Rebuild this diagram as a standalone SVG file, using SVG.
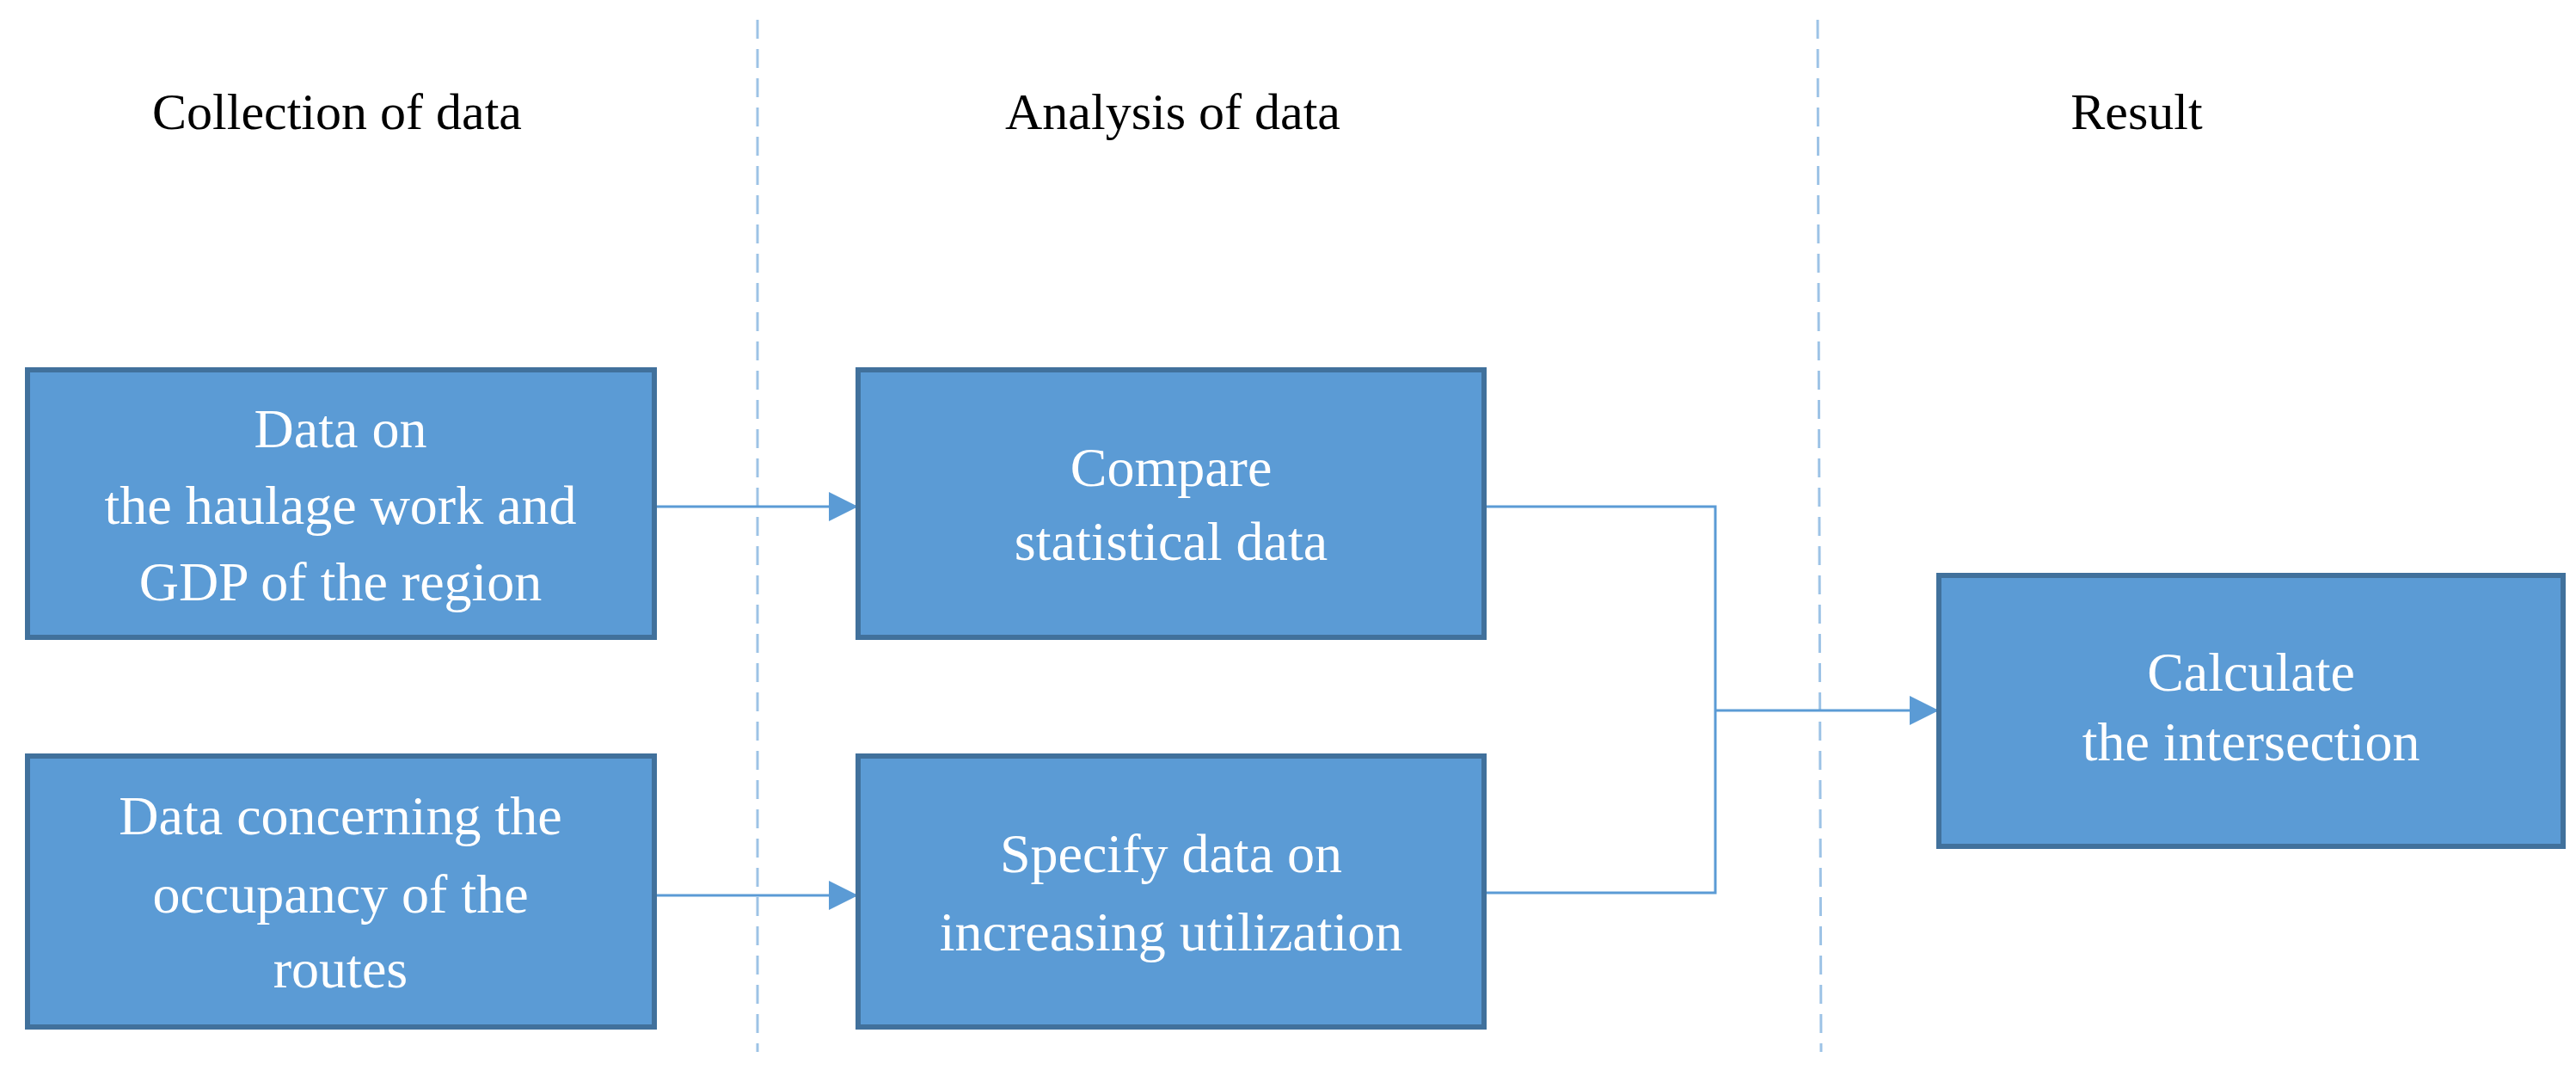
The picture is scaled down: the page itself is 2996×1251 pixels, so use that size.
<svg xmlns="http://www.w3.org/2000/svg" width="2996" height="1251" viewBox="0 0 2996 1251">
<style>
.box{fill:#5B9BD5;stroke:#41719C;stroke-width:6}
.bt{font-family:"Liberation Serif",serif;font-size:64px;fill:#fff;text-anchor:middle}
.hd{font-family:"Liberation Serif",serif;font-size:60px;fill:#000;text-anchor:middle}
.cn{fill:none;stroke:#5B9BD5;stroke-width:3}
.ds{stroke:#9DC3E6;stroke-width:3;stroke-dasharray:22 12}
</style>
<defs><marker id="ah" markerWidth="12" markerHeight="12" refX="11" refY="6" orient="auto" markerUnits="userSpaceOnUse" viewBox="0 0 12 12"><path d="M0,0 L12,6 L0,12 z" fill="#5B9BD5"/></marker>
<marker id="a" viewBox="0 0 10 10" refX="10" refY="5" markerWidth="34" markerHeight="34" markerUnits="userSpaceOnUse" orient="auto"><path d="M0,0 L10,5 L0,10 z" fill="#5B9BD5"/></marker></defs>
<rect width="2996" height="1251" fill="#fff"/>
<g id="dividers"><line class="ds" x1="881" y1="23" x2="881" y2="1223"/><line class="ds" x1="2114" y1="23" x2="2118" y2="1223"/></g>
<g id="headers"><text class="hd" x="392" y="150">Collection of data</text><text class="hd" x="1364" y="150">Analysis of data</text><text class="hd" x="2485" y="150">Result</text></g>
<g id="connectors">
<line class="cn" x1="761" y1="589" x2="998" y2="589" marker-end="url(#a)"/>
<line class="cn" x1="761" y1="1041" x2="998" y2="1041" marker-end="url(#a)"/>
<polyline class="cn" points="1726,589 1995,589 1995,1038 1726,1038"/>
<line class="cn" x1="1995" y1="826" x2="2255" y2="826" marker-end="url(#a)"/>
</g>
<g id="n1"><rect class="box" x="32" y="430" width="729" height="311"/><text class="bt" x="396" y="520">Data on</text><text class="bt" x="396" y="609">the haulage work and</text><text class="bt" x="396" y="698">GDP of the region</text></g>
<g id="n2"><rect class="box" x="32" y="879" width="729" height="315"/><text class="bt" x="396" y="970">Data concerning the</text><text class="bt" x="396" y="1061">occupancy of the</text><text class="bt" x="396" y="1148">routes</text></g>
<g id="n3"><rect class="box" x="998" y="430" width="728" height="311"/><text class="bt" x="1362" y="565">Compare</text><text class="bt" x="1362" y="651">statistical data</text></g>
<g id="n4"><rect class="box" x="998" y="879" width="728" height="315"/><text class="bt" x="1362" y="1014">Specify data on</text><text class="bt" x="1362" y="1105">increasing utilization</text></g>
<g id="n5"><rect class="box" x="2255" y="669" width="726" height="315"/><text class="bt" x="2618" y="803">Calculate</text><text class="bt" x="2618" y="884">the intersection</text></g>
</svg>
